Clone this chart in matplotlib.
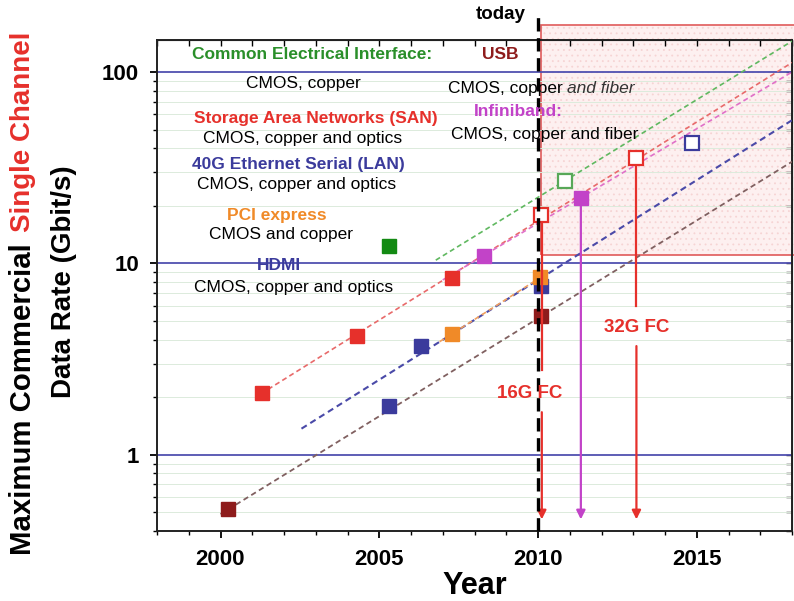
import matplotlib
matplotlib.use('Agg')
import matplotlib.pyplot as plt
from matplotlib.patches import Rectangle
from matplotlib.ticker import FixedLocator, NullFormatter, LogLocator

plt.rcParams['font.family'] = ['Liberation Sans', 'DejaVu Sans']
plt.rcParams['hatch.linewidth'] = 0.6

# measured points (year, Gbit/s)
usb_years = [2000.25, 2010.1]
usb_rate = [0.52, 5.3]
san_years = [2001.3, 2004.3, 2007.3]
san_rate = [2.1, 4.2, 8.4]
san_future_years = [2010.1, 2013.1]
san_future_rate = [17.8, 35.5]
lan_years = [2005.3, 2006.3, 2010.1]
lan_rate = [1.8, 3.7, 7.6]
lan_future_years = [2014.85]
lan_future_rate = [42.5]
pcie_years = [2007.3, 2010.05]
pcie_rate = [4.3, 8.5]
ib_years = [2008.3, 2011.35]
ib_rate = [10.9, 21.9]
cei_years = [2005.3]
cei_rate = [12.3]
cei_future_years = [2010.85]
cei_future_rate = [27.0]

# trend lines (start, end)
usb_trend_x, usb_trend_y = [2000.0, 2018.0], [0.49, 34.0]
lan_trend_x, lan_trend_y = [2002.55, 2018.0], [1.37, 56.0]
pcie_trend_x, pcie_trend_y = [2006.9, 2010.2], [3.9, 8.7]
san_trend_x, san_trend_y = [2001.5, 2018.0], [2.2, 112.0]
ib_trend_x, ib_trend_y = [2007.0, 2018.0], [8.2, 100.0]
cei_trend_x, cei_trend_y = [2006.78, 2018.0], [10.4, 145.0]

x_ticks = [2000, 2005, 2010, 2015]
y_ticks = [1, 10, 100]
y_ticklabels = ['1', '10', '100']

c_green = '#2a8f2a'
c_usb = '#8e1c1c'
c_red = '#e6302b'
c_blue = '#3b3b9c'
c_orange = '#f08a28'
c_mag = '#c243c8'

fig = plt.figure(figsize=(7.94, 6.01), dpi=100)
ax = fig.add_axes([157/794, 70/601, (792-157)/794, (531-40)/601])
ax.set_yscale('log')
ax.set_xlim(1998, 2018)
ax.set_ylim(0.40, 147)

# future region
ax.add_patch(Rectangle((2010.1, 11.1), 10, 165, facecolor='#fdf0f0', edgecolor='#f6d4d4',
                       hatch='...', lw=0, clip_on=False, zorder=0))
ax.add_patch(Rectangle((2010.1, 11.1), 10, 165, facecolor='none', edgecolor='#e05a5a',
                       lw=1.2, clip_on=False, zorder=1))

# grid lines
for dec in [0.1, 1, 10, 100]:
    for m in range(2, 10):
        v = dec * m
        if 0.40 < v < 147:
            ax.axhline(v, color='#dcebdc', lw=0.7, zorder=1)
for v in y_ticks:
    ax.axhline(v, color='#5050b0', lw=1.3, zorder=2)

# trend lines
ds = (0, (3, 2))
ax.plot(usb_trend_x, usb_trend_y, color='#806060', lw=1.3, ls=ds, zorder=3)
ax.plot(lan_trend_x, lan_trend_y, color='#4a4aa8', lw=1.5, ls=ds, zorder=3)
ax.plot(pcie_trend_x, pcie_trend_y, color='#f0a060', lw=1.2, ls=ds, zorder=3)
ax.plot(san_trend_x, san_trend_y, color='#e86a6a', lw=1.2, ls=ds, zorder=3)
ax.plot(ib_trend_x, ib_trend_y, color='#e070c8', lw=1.2, ls=ds, zorder=3)
ax.plot(cei_trend_x, cei_trend_y, color='#60b860', lw=1.2, ls=ds, zorder=3)

ms = 9.5
def filled(x, y, c):
    ax.plot(x, y, 's', ms=ms, color=c, mec=c, ls='none', zorder=5)

def hollow(x, y, c):
    ax.plot(x, y, 's', ms=ms, mfc='white', mec=c, mew=1.6, ls='none', zorder=6)

filled(usb_years, usb_rate, c_usb)
filled(san_years, san_rate, c_red)
hollow(san_future_years, san_future_rate, c_red)
filled(lan_years, lan_rate, c_blue)
hollow(lan_future_years, lan_future_rate, c_blue)
filled(pcie_years, pcie_rate, c_orange)
filled(ib_years, ib_rate, c_mag)
filled(cei_years, cei_rate, '#138a13')
hollow(cei_future_years, cei_future_rate, '#58a858')

# today line
ax.plot([2010.0, 2010.0], [0.40, 195], color='black', lw=2.4, ls=(0, (4, 2)),
        clip_on=False, zorder=7)
ax.text(2009.6, 200, 'today', ha='right', va='center', fontsize=13.5, fontweight='bold')

# arrows
arw = dict(arrowstyle='-|>', mutation_scale=13, shrinkA=0, shrinkB=0)
ax.plot([2010.12, 2010.12], [16.0, 2.76], color=c_red, lw=1.6, zorder=6)
ax.annotate('', xy=(2010.12, 0.46), xytext=(2010.12, 1.67),
            arrowprops=dict(color=c_red, lw=1.6, **arw), zorder=6)
ax.text(2009.75, 2.1, '16G FC', color=c_red, ha='center', va='center',
        fontsize=13.5, fontweight='bold', zorder=8)
ax.annotate('', xy=(2011.35, 0.46), xytext=(2011.35, 20.0),
            arrowprops=dict(color=c_mag, lw=1.6, **arw), zorder=6)
ax.plot([2013.1, 2013.1], [32.0, 6.0], color=c_red, lw=1.6, zorder=6)
ax.annotate('', xy=(2013.1, 0.46), xytext=(2013.1, 3.7),
            arrowprops=dict(color=c_red, lw=1.6, **arw), zorder=6)
ax.text(2013.1, 4.6, '32G FC', color=c_red, ha='center', va='center',
        fontsize=13.5, fontweight='bold', zorder=8)

# labels
fs = 12.5
def lab(x, y, s, c='black', bold=False, ha='center'):
    return ax.text(x, y, s, color=c, ha=ha, va='center', fontsize=fs,
                   fontweight='bold' if bold else 'normal', zorder=8)

lab(2002.87, 123, 'Common Electrical Interface:', c_green, True)
lab(2008.8, 123, 'USB', c_usb, True)
lab(2002.62, 87.6, 'CMOS, copper')
t = lab(2007.16, 82.5, 'CMOS, copper ', ha='left')
ax.annotate('and fiber', xy=(1, 0.5), xycoords=t, va='center', ha='left',
            fontsize=fs, style='italic', color='#333333', zorder=8)
lab(2003.0, 57.5, 'Storage Area Networks (SAN)', c_red, True)
lab(2009.37, 62, 'Infiniband:', c_mag, True)
lab(2002.6, 45, 'CMOS, copper and optics')
lab(2010.2, 46.9, 'CMOS, copper and fiber')
lab(2002.46, 32.7, '40G Ethernet Serial (LAN)', c_blue, True)
lab(2002.4, 25.7, 'CMOS, copper and optics')
lab(2001.77, 17.9, 'PCI express', c_orange, True)
lab(2001.9, 14.1, 'CMOS and copper')
lab(2001.84, 9.8, 'HDMI', c_blue, True)
lab(2002.3, 7.5, 'CMOS, copper and optics')

# axes styling
for sp in ax.spines.values():
    sp.set_linewidth(1.4)
    sp.set_color('#222222')
ax.xaxis.set_major_locator(FixedLocator(x_ticks))
ax.xaxis.set_minor_locator(FixedLocator(list(range(1998, 2019))))
ax.set_xticklabels([str(v) for v in x_ticks], fontsize=16, fontweight='bold')
ax.yaxis.set_major_locator(FixedLocator(y_ticks))
ax.yaxis.set_minor_locator(LogLocator(base=10, subs=range(2, 10)))
ax.yaxis.set_minor_formatter(NullFormatter())
ax.set_yticklabels(y_ticklabels, fontsize=16, fontweight='bold')
ax.tick_params(which='major', direction='out', length=5, width=1.3, pad=8)
ax.tick_params(which='minor', direction='out', length=3, width=1.0)

top = ax.secondary_xaxis('top')
top.xaxis.set_major_locator(FixedLocator(x_ticks))
top.xaxis.set_minor_locator(FixedLocator(list(range(1998, 2019))))
top.tick_params(which='both', direction='in', labeltop=False, length=4, width=1.0)
right = ax.secondary_yaxis('right')
right.yaxis.set_major_locator(FixedLocator(y_ticks))
right.yaxis.set_minor_locator(LogLocator(base=10, subs=range(2, 10)))
right.tick_params(which='both', direction='in', labelright=False, length=4, width=1.0)
right.yaxis.set_minor_formatter(NullFormatter())

fig.text(475/794, 1 - 586/601, 'Year', ha='center', va='center', fontsize=22, fontweight='bold')
fig.text(23/794, 1 - 555/601, 'Maximum Commercial', rotation=90, ha='center', va='bottom',
         fontsize=21.2, fontweight='bold')
fig.text(23/794, 1 - 32/601, 'Single Channel', rotation=90, ha='center', va='top',
         fontsize=20, fontweight='bold', color=c_red)
fig.text(64/794, 1 - 282/601, 'Data Rate (Gbit/s)', rotation=90, ha='center', va='center',
         fontsize=20, fontweight='bold')

fig.savefig('out.png', dpi=100)
